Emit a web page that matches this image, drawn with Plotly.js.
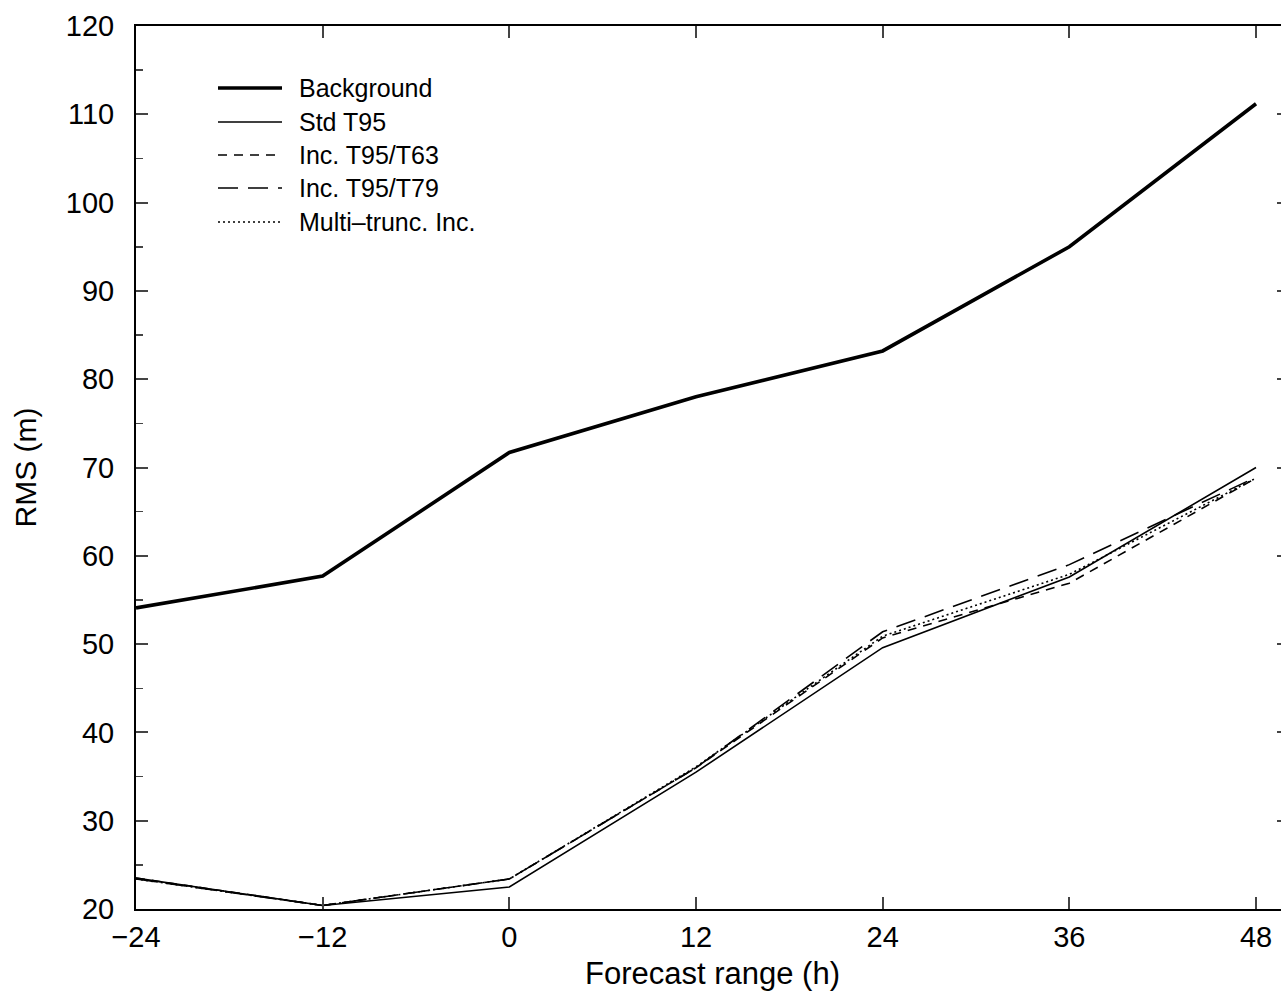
<!DOCTYPE html>
<html>
<head>
<meta charset="utf-8">
<script src="https://cdn.plot.ly/plotly-3.0.1.min.js"></script>
<style>
html,body{margin:0;padding:0;overflow:hidden;background:#fff;}
#chart{width:1300px;height:1000px;}
</style>
</head>
<body>
<div id="chart"></div>
<script>
// Data
var forecastRange = [-24, -12, 0, 12, 24, 36, 48];
var background    = [54.1, 57.7, 71.7, 78.0, 83.2, 95.0, 111.2];
var stdT95        = [23.5, 20.4, 22.5, 35.5, 49.6, 57.6, 70.0];
var incT95T63     = [23.5, 20.4, 23.4, 36.0, 50.7, 56.9, 68.8];
var incT95T79     = [23.4, 20.4, 23.4, 36.0, 51.4, 59.0, 68.9];
var multiTrunc    = [23.4, 20.4, 23.4, 36.1, 50.9, 57.9, 68.8];
var seriesNames   = ['Background', 'Std T95', 'Inc. T95/T63', 'Inc. T95/T79', 'Multi\u2013trunc. Inc.'];
var xTickVals     = [-24, -12, 0, 12, 24, 36, 48];
var yTickVals     = [20, 30, 40, 50, 60, 70, 80, 90, 100, 110, 120];

var styles = [
  {width: 3.6, dash: 'solid'},
  {width: 1.6, dash: 'solid'},
  {width: 1.6, dash: '9px,7px'},
  {width: 1.6, dash: '20px,10px'},
  {width: 1.6, dash: '2px,3px'}
];
var series = [background, stdT95, incT95T63, incT95T79, multiTrunc];

var traces = series.map(function(s, i){
  return {
    x: forecastRange, y: s, type: 'scatter', mode: 'lines', name: seriesNames[i],
    line: {color: '#000', width: styles[i].width, dash: styles[i].dash},
    showlegend: false, hoverinfo: 'skip'
  };
});

// manual legend (pixel positions converted to paper coords)
var L = 136, R = 1289, T = 26, B = 909;
function px(xp){ return (xp - L) / (R - L); }
function py(yp){ return 1 - (yp - T) / (B - T); }
var legendRows = [88, 122, 155, 188, 222];
var shapes = [], annotations = [];
legendRows.forEach(function(yy, i){
  shapes.push({type:'line', xref:'paper', yref:'paper', x0:px(218), x1:px(282), y0:py(yy), y1:py(yy),
    line:{color:'#000', width: styles[i].width, dash: styles[i].dash}});
  annotations.push({xref:'paper', yref:'paper', x:px(297), y:py(yy), xanchor:'left', yanchor:'middle',
    text: seriesNames[i], showarrow:false, font:{family:'Liberation Sans, Arial, sans-serif', size:25, color:'#000'}});
});

var font = {family:'Liberation Sans, Arial, Helvetica, sans-serif', color:'#000'};

var layout = {
  width: 1300, height: 1000,
  margin: {l: L, r: 1300 - R, t: T, b: 1000 - B},
  paper_bgcolor: '#fff', plot_bgcolor: '#fff',
  font: font,
  xaxis: {
    range: [-24, 50.12], tickvals: xTickVals, ticks: 'inside', ticklen: 12, tickwidth: 2,
    showline: true, linecolor: '#000', linewidth: 2, mirror: 'ticks', showgrid: false, zeroline: false,
    tickfont: {family: font.family, size: 29, color: '#000'}, ticklabelstandoff: 1,
    title: {text: 'Forecast range (h)', font: {family: font.family, size: 31, color: '#000'}, standoff: 11},
    automargin: false
  },
  yaxis: {
    range: [20, 120], tickvals: yTickVals, ticks: 'inside', ticklen: 12, tickwidth: 2,
    showline: true, linecolor: '#000', linewidth: 2, mirror: 'ticks', showgrid: false, zeroline: false,
    tickfont: {family: font.family, size: 29, color: '#000'}, ticklabelstandoff: 14,
    minor: {dtick: 5, ticks: 'inside', ticklen: 7, tickwidth: 1.5, showgrid: false},
    title: {text: 'RMS (m)', font: {family: font.family, size: 30, color: '#000'}, standoff: 20},
    automargin: false
  },
  shapes: shapes,
  annotations: annotations,
  showlegend: false
};

Plotly.newPlot('chart', traces, layout, {displayModeBar: false, staticPlot: true});
</script>
</body>
</html>
